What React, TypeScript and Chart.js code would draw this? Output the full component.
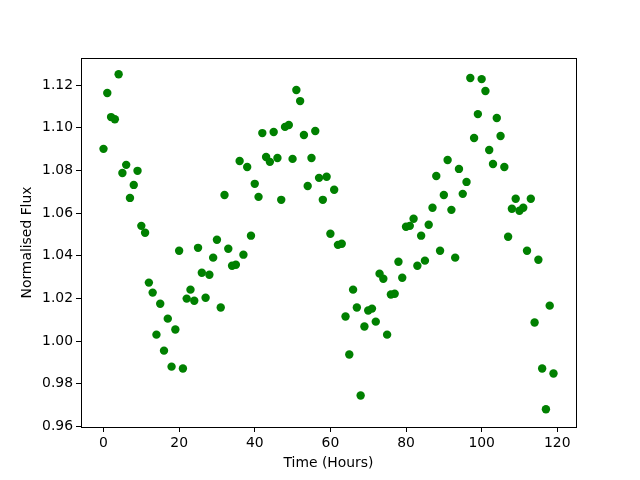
import React, { useEffect, useRef } from "react";
import { Chart, registerables } from "chart.js";

Chart.register(...registerables);

const hours: number[] = Array.from({ length: 120 }, (_, i) => i);
const flux: number[] = [
  1.0901, 1.1163, 1.105, 1.104, 1.1251, 1.0788, 1.0826, 1.0671, 1.0732, 1.0798,
  1.054, 1.0508, 1.0274, 1.0227, 1.003, 1.0175, 0.9955, 1.0105, 0.988, 1.0054,
  1.0423, 0.9871, 1.0199, 1.0241, 1.0189, 1.0437, 1.032, 1.0203, 1.0311, 1.0391,
  1.0475, 1.0157, 1.0685, 1.0433, 1.0353, 1.0358, 1.0844, 1.0405, 1.0816, 1.0494,
  1.0737, 1.0676, 1.0975, 1.0863, 1.084, 1.098, 1.0858, 1.0662, 1.1004, 1.1013,
  1.0854, 1.1177, 1.1125, 1.0966, 1.0727, 1.0858, 1.0985, 1.0765, 1.0662, 1.077,
  1.0503, 1.0709, 1.0451, 1.0456, 1.0115, 0.9937, 1.0241, 1.0157, 0.9745, 1.0068,
  1.0143, 1.0152, 1.0091, 1.0316, 1.0292, 1.003, 1.0218, 1.0222, 1.0372, 1.0297,
  1.0536, 1.054, 1.0573, 1.0353, 1.0494, 1.0377, 1.0545, 1.0625, 1.0774, 1.0423,
  1.0685, 1.0849, 1.0615, 1.0391, 1.0807, 1.069, 1.0746, 1.1233, 1.0952, 1.1064,
  1.1228, 1.1172, 1.0896, 1.083, 1.1046, 1.0961, 1.0816, 1.0489, 1.062, 1.0667,
  1.0611, 1.0625, 1.0423, 1.0667, 1.0087, 1.0381, 0.9871, 0.968, 1.0166, 0.9848,
];

const xTitle = "Time (Hours)";
const yTitle = "Normalised Flux";

const frame = {
  id: "frame",
  afterDraw(chart: any) {
    const { ctx, chartArea: a } = chart;
    ctx.save();
    ctx.strokeStyle = "#000";
    ctx.lineWidth = 1;
    ctx.strokeRect(Math.round(a.left) + 0.5, Math.round(a.top) + 0.5, Math.round(a.right - a.left), Math.round(a.bottom - a.top));
    ctx.restore();
  },
};

export default function App() {
  const ref = useRef<HTMLCanvasElement>(null);
  useEffect(() => {
    const font = { family: "DejaVu Sans", size: 13.9 };
    const chart = new Chart(ref.current!, {
      type: "scatter",
      data: {
        datasets: [
          {
            data: hours.map((h, i) => ({ x: h, y: flux[i] })),
            backgroundColor: "#008000",
            borderColor: "#008000",
            pointRadius: 4.2,
            pointHoverRadius: 4.2,
            borderWidth: 0,
          },
        ],
      },
      options: {
        animation: false,
        responsive: false,
        events: [],
        layout: { padding: { top: 58, right: 64, left: 0, bottom: 0 } },
        plugins: { legend: { display: false }, tooltip: { enabled: false } },
        scales: {
          x: {
            type: "linear",
            min: -5.95,
            max: 124.95,
            afterFit: (s: any) => { s.height = 53; },
            border: { display: false },
            grid: { drawOnChartArea: false, drawTicks: true, tickLength: 5, color: "#000" },
            ticks: { stepSize: 20, includeBounds: false, color: "#000", font, padding: 3, maxRotation: 0 },
            title: { display: true, text: xTitle, color: "#000", font, padding: { top: 0, bottom: 8 } },
          },
          y: {
            type: "linear",
            min: 0.9597,
            max: 1.1327,
            afterFit: (s: any) => { s.width = 81; },
            border: { display: false },
            grid: { drawOnChartArea: false, drawTicks: true, tickLength: 5, color: "#000" },
            ticks: {
              stepSize: 0.02,
              includeBounds: false,
              color: "#000",
              font,
              padding: 3,
              callback: (v: any) => Number(v).toFixed(2),
            },
            title: { display: true, text: yTitle, color: "#000", font, padding: { top: 19, bottom: 0 } },
          },
        },
      },
      plugins: [frame],
    });
    return () => chart.destroy();
  }, []);
  return (
    <div style={{ position: "fixed", left: 0, top: 0, width: 640, height: 480, background: "#fff" }}>
      <canvas ref={ref} width={640} height={480} style={{ width: 640, height: 480 }} />
    </div>
  );
}
